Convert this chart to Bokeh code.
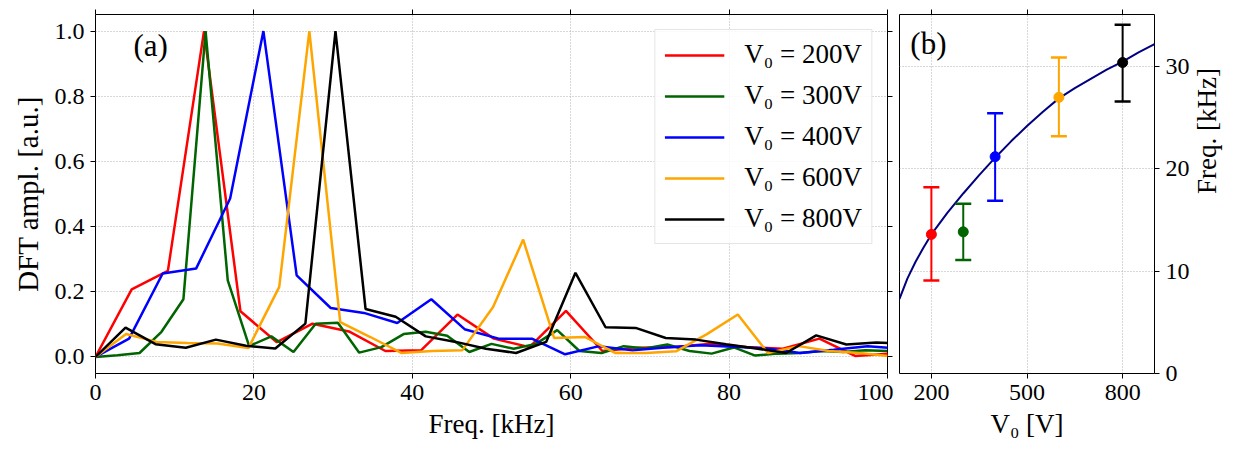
import math
from bokeh.plotting import figure
from bokeh.layouts import row
from bokeh.models import (Range1d, LinearAxis, FixedTicker, PrintfTickFormatter, Label,
                          ColumnDataSource, Legend, LegendItem, CustomJSTickFormatter)
from bokeh.embed import file_html
from bokeh.resources import INLINE

# ---------------- data ----------------
labels = ["V\u2080 = 200V", "V\u2080 = 300V", "V\u2080 = 400V", "V\u2080 = 600V", "V\u2080 = 800V"]
colors = ["#ff0000", "#006400", "#0000ff", "#ffa500", "#000000"]

red_f = [0, 4.57, 9.14, 13.7, 18.3, 22.9, 27.4, 32.0, 36.6, 41.1, 45.7, 50.3, 54.8, 59.4, 64.0, 68.5, 73.1, 77.7, 82.2, 86.8, 91.4, 95.9, 100.5]
red_a = [0, 0.207, 0.264, 1.0, 0.14, 0.045, 0.102, 0.078, 0.018, 0.02, 0.13, 0.056, 0.03, 0.141, 0.018, 0.028, 0.03, 0.04, 0.03, 0.025, 0.056, 0.003, 0.01]

green_f = [0, 2.78, 5.56, 8.33, 11.1, 13.9, 16.7, 19.4, 22.2, 25.0, 27.8, 30.6, 33.3, 36.1, 38.9, 41.7, 44.4, 47.2, 50.0, 52.8, 55.6, 58.3, 61.1, 63.9, 66.7, 69.4, 72.2, 75.0, 77.8, 80.6, 83.3, 86.1, 88.9, 91.7, 94.4, 97.2, 100.0]
green_a = [0, 0.005, 0.012, 0.077, 0.177, 1.0, 0.235, 0.033, 0.063, 0.015, 0.102, 0.105, 0.013, 0.03, 0.07, 0.077, 0.065, 0.015, 0.04, 0.025, 0.04, 0.082, 0.018, 0.012, 0.033, 0.026, 0.038, 0.018, 0.01, 0.029, 0.004, 0.01, 0.012, 0.018, 0.015, 0.02, 0.018]

blue_f = [0, 4.24, 8.48, 12.7, 17.0, 21.2, 25.4, 29.7, 33.9, 38.1, 42.4, 46.6, 50.9, 55.1, 59.3, 63.6, 67.8, 72.0, 76.3, 80.5, 84.8, 89.0, 93.2, 97.5, 101.7]
blue_a = [0, 0.056, 0.256, 0.271, 0.486, 1.0, 0.25, 0.15, 0.135, 0.104, 0.177, 0.085, 0.056, 0.056, 0.008, 0.033, 0.02, 0.029, 0.036, 0.031, 0.026, 0.012, 0.022, 0.033, 0.025]

orange_f = [0, 3.86, 7.72, 11.6, 15.4, 19.3, 23.2, 27.0, 30.9, 34.7, 38.6, 42.5, 46.3, 50.2, 54.0, 57.9, 61.8, 65.6, 69.5, 73.3, 77.2, 81.1, 84.9, 88.8, 92.6, 96.5, 100.4]
orange_a = [0, 0.07, 0.046, 0.043, 0.041, 0.027, 0.215, 1.0, 0.107, 0.061, 0.012, 0.018, 0.02, 0.153, 0.36, 0.058, 0.061, 0.012, 0.012, 0.017, 0.07, 0.13, 0.012, 0.033, 0.018, 0.012, 0.002]

black_f = [0, 3.79, 7.58, 11.4, 15.2, 19.0, 22.7, 26.5, 30.3, 34.1, 37.9, 41.7, 45.5, 49.3, 53.1, 56.9, 60.6, 64.4, 68.2, 72.0, 75.8, 79.6, 83.4, 87.2, 91.0, 94.8, 98.6, 102.4]
black_a = [0, 0.09, 0.039, 0.028, 0.053, 0.034, 0.026, 0.102, 1.0, 0.147, 0.123, 0.063, 0.046, 0.025, 0.012, 0.046, 0.258, 0.091, 0.089, 0.058, 0.053, 0.039, 0.026, 0.012, 0.066, 0.038, 0.044, 0.04]

# panel (b)
volts = [200, 300, 400, 600, 800]
peak_f = [13.6, 13.85, 21.2, 27.0, 30.4]
err_lo = [9.1, 11.1, 16.9, 23.2, 26.6]
err_hi = [18.2, 16.6, 25.45, 30.9, 34.1]

fit_v = [100, 125, 150, 175, 200, 250, 300, 350, 400, 450, 500, 550, 600, 650, 700, 750, 800, 850, 900]
fit_f = [7.3, 9.3, 10.9, 12.3, 13.6, 15.7, 17.6, 19.4, 21.1, 22.7, 24.2, 25.6, 26.9, 27.9, 28.8, 29.7, 30.5, 31.4, 32.2]

a_xticks = [0, 20, 40, 60, 80, 100]
a_yticks = [0.0, 0.2, 0.4, 0.6, 0.8, 1.0]
b_xticks = [200, 500, 800]
b_yticks = [0, 10, 20, 30]

FONT = "Liberation Serif"
TICK_FS = "24px"
LABEL_FS = "27px"


def style_axis(ax, ticks, show_labels=True):
    ax.ticker = FixedTicker(ticks=ticks)
    ax.axis_line_color = None
    ax.major_tick_in = 0
    ax.major_tick_out = 5
    ax.major_tick_line_color = "black"
    ax.major_tick_line_width = 1
    ax.minor_tick_line_color = None
    ax.major_label_text_font = FONT
    ax.major_label_text_color = "black"
    ax.axis_label_text_font = FONT
    ax.axis_label_text_font_style = "normal"
    ax.axis_label_text_font_size = LABEL_FS
    ax.axis_label_text_color = "black"
    if show_labels:
        ax.major_label_text_font_size = TICK_FS
        ax.major_label_standoff = 6
    else:
        ax.formatter = CustomJSTickFormatter(code="return '';")
        ax.major_label_text_font_size = "0px"
        ax.major_label_standoff = 0


def style_grid(p):
    for g in (p.xgrid, p.ygrid):
        g.grid_line_color = "#b0b0b0"
        g.grid_line_dash = "1 2"
        g.grid_line_width = 1


# ---------------- panel (a) ----------------
pa = figure(width=893, height=450, output_backend="svg", toolbar_location=None,
            x_range=Range1d(0, 100), y_range=Range1d(-0.051, 1.051),
            min_border_left=95, min_border_right=6, min_border_top=14, min_border_bottom=77)
pa.outline_line_color = "black"
pa.outline_line_width = 1
pa.background_fill_color = "white"
pa.border_fill_color = "white"

series = [(red_f, red_a), (green_f, green_a), (blue_f, blue_a), (orange_f, orange_a), (black_f, black_a)]
items = []
for (fx, fy), c, lab in zip(series, colors, labels):
    r = pa.line(fx, fy, line_color=c, line_width=2.5)
    items.append(LegendItem(label=lab, renderers=[r]))

style_axis(pa.xaxis[0], a_xticks)
style_axis(pa.yaxis[0], a_yticks)
pa.xaxis[0].axis_label = "Freq. [kHz]"
pa.yaxis[0].axis_label = "DFT ampl. [a.u.]"
pa.yaxis[0].axis_label_text_font_size = "29px"
pa.yaxis[0].formatter = PrintfTickFormatter(format="%.1f")
pa.xaxis[0].axis_label_standoff = 6
pa.yaxis[0].axis_label_standoff = 8

top_a = LinearAxis()
style_axis(top_a, a_xticks, show_labels=False)
pa.add_layout(top_a, "above")
right_a = LinearAxis()
style_axis(right_a, a_yticks, show_labels=False)
pa.add_layout(right_a, "right")

pa.xgrid.ticker = FixedTicker(ticks=a_xticks)
pa.ygrid.ticker = FixedTicker(ticks=a_yticks)
style_grid(pa)

legend = Legend(items=items, location="top_right", margin=15, padding=9,
                glyph_width=60, glyph_height=30, label_height=30, spacing=10,
                label_standoff=20, label_text_font=FONT, label_text_font_size="27px",
                label_text_color="black",
                border_line_color="#cccccc", border_line_width=1,
                background_fill_color="white", background_fill_alpha=0.85)
pa.add_layout(legend, "center")

pa.add_layout(Label(x=4.8, y=0.955, text="(a)", text_font=FONT, text_font_size="31px",
                    text_color="black", text_baseline="middle", text_align="left"))

# ---------------- panel (b) ----------------
pb = figure(width=346, height=450, output_backend="svg", toolbar_location=None,
            x_range=Range1d(100, 900), y_range=Range1d(0, 35.1),
            y_axis_location="right",
            min_border_left=6, min_border_right=84, min_border_top=14, min_border_bottom=77)
pb.outline_line_color = "black"
pb.outline_line_width = 1
pb.background_fill_color = "white"
pb.border_fill_color = "white"

style_axis(pb.xaxis[0], b_xticks)
style_axis(pb.yaxis[0], b_yticks)
pb.xaxis[0].axis_label = "V\u2080 [V]"
pb.yaxis[0].axis_label = "Freq. [kHz]"
pb.yaxis[0].axis_label_orientation = math.pi / 2
pb.xaxis[0].axis_label_standoff = 6
pb.yaxis[0].axis_label_standoff = 14

top_b = LinearAxis()
style_axis(top_b, b_xticks, show_labels=False)
pb.add_layout(top_b, "above")

pb.xgrid.ticker = FixedTicker(ticks=b_xticks)
pb.ygrid.ticker = FixedTicker(ticks=b_yticks)
style_grid(pb)

pb.line(fit_v, fit_f, line_color="#000080", line_width=2)

src = ColumnDataSource(dict(v=volts, f=peak_f, lo=err_lo, hi=err_hi, c=colors))
pb.segment(x0="v", y0="lo", x1="v", y1="hi", source=src, line_color="c", line_width=2)
pb.scatter(x="v", y="lo", source=src, marker="dash", size=16, line_color="c", line_width=2.5)
pb.scatter(x="v", y="hi", source=src, marker="dash", size=16, line_color="c", line_width=2.5)
pb.scatter(x="v", y="f", source=src, marker="circle", size=10, fill_color="c", line_color="c")

pb.add_layout(Label(x=134, y=32.3, text="(b)", text_font=FONT, text_font_size="31px",
                    text_color="black", text_baseline="middle", text_align="left"))

layout = row(pa, pb)
open("out.html", "w").write(file_html(layout, INLINE))
